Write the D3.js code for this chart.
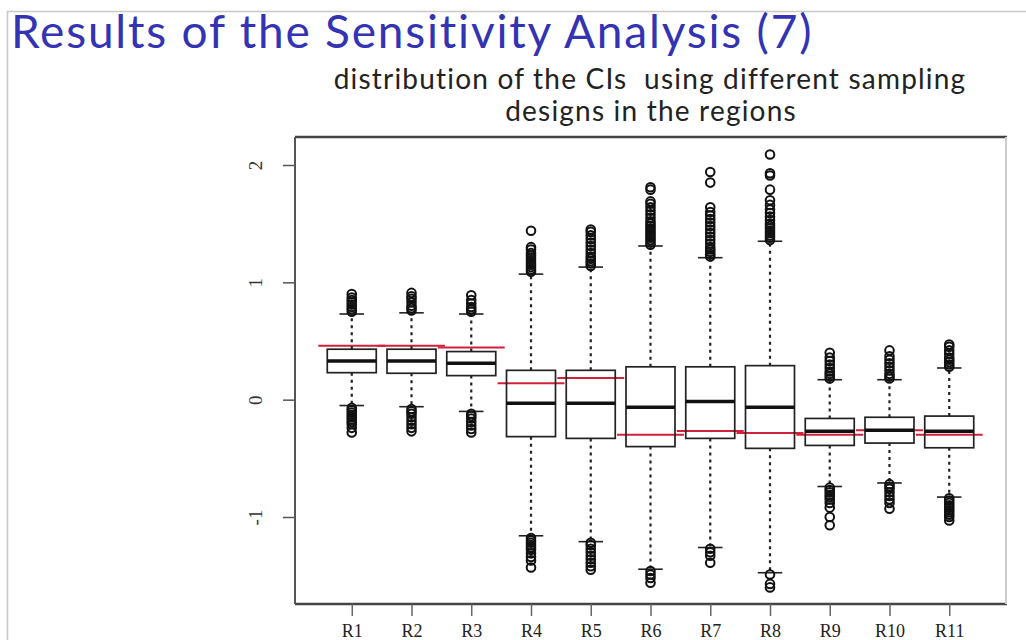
<!DOCTYPE html>
<html>
<head>
<meta charset="utf-8">
<script src="https://cdn.jsdelivr.net/npm/d3@7.9.0/dist/d3.min.js"></script>
<style>
  html, body { margin: 0; padding: 0; background: #fff; }
  svg { display: block; }
</style>
</head>
<body>
<svg id="chart" width="1026" height="640"></svg>
<script>
// regions on the x axis
const regions = ['R1', 'R2', 'R3', 'R4', 'R5', 'R6', 'R7', 'R8', 'R9', 'R10', 'R11'];

// box stats: [lower whisker, q1, median, q3, upper whisker]
const whiskLo = [-0.05, -0.06, -0.10, -1.16, -1.21, -1.445, -1.26, -1.475, -0.74, -0.71, -0.83];
const q1      = [0.23, 0.225, 0.205, -0.315, -0.33, -0.40, -0.33, -0.415, -0.39, -0.37, -0.41];
const median  = [0.33, 0.33, 0.31, -0.03, -0.03, -0.065, -0.015, -0.065, -0.27, -0.26, -0.27];
const q3      = [0.43, 0.43, 0.41, 0.25, 0.25, 0.28, 0.28, 0.29, -0.16, -0.15, -0.14];
const whiskHi = [0.73, 0.74, 0.73, 1.07, 1.13, 1.31, 1.21, 1.35, 0.17, 0.17, 0.27];

// red reference line per region
const trueValue = [0.46, 0.46, 0.445, 0.14, 0.185, -0.30, -0.267, -0.284, -0.30, -0.26, -0.30];

// outliers per region
const outHi = [
  [0.75, 0.77, 0.79, 0.81, 0.83, 0.85, 0.87, 0.90],
  [0.76, 0.78, 0.80, 0.83, 0.86, 0.88, 0.91],
  [0.75, 0.77, 0.79, 0.82, 0.85, 0.89],
  [1.09, 1.11, 1.13, 1.15, 1.17, 1.19, 1.21, 1.23, 1.25, 1.28, 1.30, 1.44],
  [1.14, 1.16, 1.18, 1.20, 1.22, 1.25, 1.28, 1.31, 1.34, 1.37, 1.40, 1.43, 1.45],
  [1.32, 1.34, 1.36, 1.38, 1.40, 1.42, 1.44, 1.46, 1.48, 1.50, 1.52, 1.55, 1.58, 1.61, 1.64, 1.67, 1.69, 1.79, 1.81],
  [1.22, 1.24, 1.26, 1.28, 1.30, 1.33, 1.36, 1.39, 1.42, 1.45, 1.48, 1.51, 1.54, 1.57, 1.60, 1.64, 1.85, 1.94],
  [1.36, 1.38, 1.40, 1.42, 1.44, 1.46, 1.48, 1.50, 1.53, 1.56, 1.59, 1.62, 1.66, 1.70, 1.79, 1.91, 1.93, 2.09],
  [0.18, 0.20, 0.22, 0.24, 0.27, 0.30, 0.33, 0.36, 0.40],
  [0.18, 0.20, 0.22, 0.25, 0.28, 0.31, 0.34, 0.37, 0.42],
  [0.28, 0.30, 0.32, 0.34, 0.36, 0.39, 0.42, 0.45, 0.47]
];
const outLo = [
  [-0.07, -0.09, -0.11, -0.13, -0.15, -0.17, -0.19, -0.21, -0.24, -0.28],
  [-0.08, -0.10, -0.12, -0.15, -0.18, -0.21, -0.24, -0.27],
  [-0.12, -0.14, -0.16, -0.19, -0.22, -0.25, -0.28],
  [-1.18, -1.20, -1.22, -1.24, -1.26, -1.28, -1.31, -1.34, -1.37, -1.43],
  [-1.22, -1.24, -1.27, -1.30, -1.33, -1.36, -1.39, -1.42, -1.45],
  [-1.46, -1.49, -1.52, -1.56],
  [-1.27, -1.30, -1.33, -1.39],
  [-1.49, -1.57, -1.60],
  [-0.75, -0.77, -0.79, -0.81, -0.83, -0.85, -0.88, -0.92, -1.00, -1.07],
  [-0.72, -0.74, -0.76, -0.79, -0.82, -0.85, -0.88, -0.93],
  [-0.84, -0.86, -0.88, -0.90, -0.92, -0.94, -0.96, -0.98, -1.00, -1.03]
];

const yTicks = [-1, 0, 1, 2];

const svg = d3.select('#chart');

// slide frame
svg.append('rect')
  .attr('x', 7.5).attr('y', 11.5)
  .attr('width', 1030).attr('height', 640)
  .attr('fill', 'none').attr('stroke', '#c8c8c8').attr('stroke-width', 1.5);

// slide title
svg.append('text')
  .attr('x', 11).attr('y', 48)
  .attr('font-family', 'Lato, "Open Sans", sans-serif')
  .attr('font-size', 46)
  .attr('letter-spacing', 1.8)
  .attr('fill', '#3333b3')
  .text('Results of the Sensitivity Analysis (7)');

// chart title
const sub = svg.append('text')
  .attr('text-anchor', 'middle')
  .attr('font-family', 'Lato, "Open Sans", sans-serif')
  .attr('font-size', 28)
  .attr('letter-spacing', 1.2)
  .attr('fill', '#222')
  .style('white-space', 'pre');
sub.append('tspan').attr('x', 650).attr('y', 89).text('distribution of the CIs  using different sampling');
sub.append('tspan').attr('x', 651).attr('y', 121).text('designs in the regions');

const plot = { left: 295, right: 1006, top: 137, bottom: 604 };

const x = d3.scaleLinear().domain([0.05, 11.95]).range([plot.left, plot.right]);
const y = d3.scaleLinear().domain([-1, 2]).range([517, 165]);

const step = x(2) - x(1);
const boxW = step * 0.82;
const capW = boxW * 0.5;

// red reference segments
svg.append('g').selectAll('line')
  .data(trueValue)
  .join('line')
  .attr('x1', (d, i) => x(i + 1) - step * 0.56)
  .attr('x2', (d, i) => x(i + 1) + step * 0.56)
  .attr('y1', d => y(d)).attr('y2', d => y(d))
  .attr('stroke', '#d0203a').attr('stroke-width', 2);

const boxes = svg.append('g').selectAll('g')
  .data(regions)
  .join('g')
  .attr('transform', (d, i) => `translate(${x(i + 1)},0)`);

// dashed whiskers
boxes.append('line')
  .attr('y1', (d, i) => y(q3[i])).attr('y2', (d, i) => y(whiskHi[i]))
  .attr('stroke', '#222').attr('stroke-width', 2.2).attr('stroke-dasharray', '3,4');
boxes.append('line')
  .attr('y1', (d, i) => y(q1[i])).attr('y2', (d, i) => y(whiskLo[i]))
  .attr('stroke', '#222').attr('stroke-width', 2.2).attr('stroke-dasharray', '3,4');

// whisker caps
boxes.append('line')
  .attr('x1', -capW / 2).attr('x2', capW / 2)
  .attr('y1', (d, i) => y(whiskHi[i])).attr('y2', (d, i) => y(whiskHi[i]))
  .attr('stroke', '#222').attr('stroke-width', 1.6);
boxes.append('line')
  .attr('x1', -capW / 2).attr('x2', capW / 2)
  .attr('y1', (d, i) => y(whiskLo[i])).attr('y2', (d, i) => y(whiskLo[i]))
  .attr('stroke', '#222').attr('stroke-width', 1.6);

// boxes
boxes.append('rect')
  .attr('x', -boxW / 2).attr('width', boxW)
  .attr('y', (d, i) => y(q3[i]))
  .attr('height', (d, i) => y(q1[i]) - y(q3[i]))
  .attr('fill', 'none').attr('stroke', '#222').attr('stroke-width', 1.7);

// medians
boxes.append('line')
  .attr('x1', -boxW / 2).attr('x2', boxW / 2)
  .attr('y1', (d, i) => y(median[i])).attr('y2', (d, i) => y(median[i]))
  .attr('stroke', '#111').attr('stroke-width', 3.5);

// outliers
boxes.selectAll('circle')
  .data((d, i) => outHi[i].concat(outLo[i]))
  .join('circle')
  .attr('cy', d => y(d))
  .attr('r', 4.3)
  .attr('fill', 'none').attr('stroke', '#111').attr('stroke-width', 2);

// plot frame: dark top/bottom/left, faint right
svg.append('line')
  .attr('x1', plot.left).attr('x2', plot.right + 1)
  .attr('y1', plot.top).attr('y2', plot.top)
  .attr('stroke', '#444').attr('stroke-width', 2.5);
svg.append('line')
  .attr('x1', plot.left).attr('x2', plot.right + 1)
  .attr('y1', plot.bottom).attr('y2', plot.bottom)
  .attr('stroke', '#444').attr('stroke-width', 2.5);
svg.append('line')
  .attr('x1', plot.left).attr('x2', plot.left)
  .attr('y1', plot.top).attr('y2', plot.bottom)
  .attr('stroke', '#555').attr('stroke-width', 2);
svg.append('line')
  .attr('x1', plot.right).attr('x2', plot.right)
  .attr('y1', plot.top).attr('y2', plot.bottom)
  .attr('stroke', '#ccc').attr('stroke-width', 2);

// y axis
const yAxis = svg.append('g')
  .attr('transform', `translate(${plot.left},0)`)
  .call(d3.axisLeft(y).tickValues(yTicks).tickSize(12).tickFormat(d3.format('d')));
yAxis.select('.domain').remove();
yAxis.selectAll('.tick line').attr('stroke', '#555').attr('stroke-width', 1.5);
yAxis.selectAll('.tick text')
  .attr('x', null).attr('dy', null)
  .attr('transform', 'translate(-40,0) rotate(-90)')
  .attr('text-anchor', 'middle')
  .attr('dominant-baseline', 'central')
  .attr('font-family', '"Liberation Serif", serif')
  .attr('font-size', 19)
  .attr('fill', '#333')
  .text(d => d < 0 ? '-' + Math.abs(d) : d);

// x axis
const xAxis = svg.append('g')
  .attr('transform', `translate(0,${plot.bottom})`)
  .call(d3.axisBottom(x).tickValues(d3.range(1, regions.length + 1)).tickSize(12)
    .tickFormat(d => regions[d - 1]));
xAxis.select('.domain').remove();
xAxis.selectAll('.tick line').attr('stroke', '#666').attr('stroke-width', 1.5);
xAxis.selectAll('.tick text')
  .attr('y', 33).attr('dy', null)
  .attr('font-family', '"Liberation Serif", serif')
  .attr('font-size', 18)
  .attr('fill', '#222');
</script>
</body>
</html>
